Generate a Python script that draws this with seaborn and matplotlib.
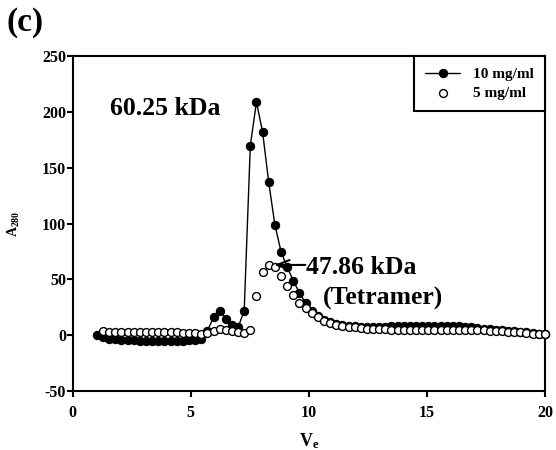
import matplotlib
matplotlib.use("Agg")
import matplotlib.pyplot as plt
import seaborn as sns
import pandas as pd

# Elution volume of each fraction (mL)
volumes = [
    1.02, 1.28, 1.54, 1.80, 2.06, 2.32, 2.58, 2.84, 3.10, 3.36,
    3.62, 3.88, 4.14, 4.40, 4.66, 4.92, 5.18, 5.44, 5.70, 5.96,
    6.22, 6.48, 6.74, 7.00, 7.26, 7.52, 7.78, 8.04, 8.30, 8.56,
    8.82, 9.08, 9.34, 9.60, 9.86, 10.12, 10.38, 10.64, 10.90, 11.16,
    11.42, 11.68, 11.94, 12.20, 12.46, 12.72, 12.98, 13.24, 13.50, 13.76,
    14.02, 14.28, 14.54, 14.80, 15.06, 15.32, 15.58, 15.84, 16.10, 16.36,
    16.62, 16.88, 17.14, 17.40, 17.66, 17.92, 18.18, 18.44, 18.70, 18.96,
    19.22, 19.48, 19.74, 20.00,
]

# A280, 10 mg/ml (filled circles)
a280_10 = [
    0, -2, -3, -3.5, -4, -4.5, -4.5, -5, -5, -5,
    -5, -5, -5, -5, -5, -4.5, -4.5, -3, 4, 16,
    22, 15, 9, 7, 22, 170, 209, 182, 137, 99,
    75, 61, 49, 38, 29, 22, 17, 14, 12, 10.5,
    9.5, 8.5, 8, 7.5, 7, 7, 7, 7.5, 8, 8,
    8.5, 8.5, 8.5, 8.5, 8.5, 8.5, 8.5, 8.5, 8, 8,
    7.5, 7, 6.5, 6, 5.5, 5, 4.5, 4, 3.5, 3,
    2.5, 2, 1.5, 1,
]

# A280, 5 mg/ml (open circles), starts one fraction later
a280_5 = [
    3.5, 3, 2.5, 2.5, 2.5, 2.5, 2.5, 2.5, 2.5, 2.5,
    2.5, 2.5, 2.5, 2, 2, 2, 1.5, 2, 4, 6,
    5, 3.5, 2.5, 2, 5, 35, 57, 63, 61, 53,
    44, 36, 29, 24, 20, 16, 13, 11, 9.5, 8.5,
    7.5, 7, 6.5, 6, 6, 5.5, 5.5, 5, 5, 5,
    5, 5, 5, 5, 5, 5, 5, 5, 5, 5,
    5, 4.5, 4.5, 4, 4, 3.5, 3, 3, 2.5, 2,
    1.5, 1.2, 1,
]

x_ticks = [0, 5, 10, 15, 20]
y_ticks = [-50, 0, 50, 100, 150, 200, 250]


def main():
    sns.set_style("ticks")
    plt.rcParams["font.family"] = ["Liberation Serif", "DejaVu Serif"]
    plt.rcParams["font.weight"] = "bold"
    plt.rcParams["text.color"] = "black"
    plt.rcParams["axes.labelcolor"] = "black"
    plt.rcParams["xtick.color"] = "black"
    plt.rcParams["ytick.color"] = "black"
    plt.rcParams["axes.unicode_minus"] = False
    plt.rcParams["mathtext.fontset"] = "custom"
    plt.rcParams["mathtext.rm"] = "Liberation Serif"
    plt.rcParams["mathtext.bf"] = "Liberation Serif:bold"

    df10 = pd.DataFrame({"Ve": volumes, "A280": a280_10})
    df5 = pd.DataFrame({"Ve": volumes[1:], "A280": a280_5})

    fig = plt.figure(figsize=(5.56, 4.5), dpi=100)
    ax = fig.add_axes([0.131, 0.131, 0.849, 0.744])

    sns.lineplot(data=df10, x="Ve", y="A280", ax=ax, color="black",
                 linewidth=1, marker="o", markersize=6,
                 markerfacecolor="black", markeredgecolor="black",
                 label="10 mg/ml", zorder=3, clip_on=False)
    sns.scatterplot(data=df5, x="Ve", y="A280", ax=ax, s=32,
                    facecolor="white", edgecolor="black", linewidth=1,
                    label="5 mg/ml", zorder=4, clip_on=False)

    ax.set_xlim(0, 20)
    ax.set_ylim(-50, 250)
    ax.set_xticks(x_ticks)
    ax.set_yticks(y_ticks)
    ax.tick_params(axis="x", labelsize=11.5, width=1.5, length=4, pad=6)
    ax.tick_params(axis="y", labelsize=11.5, width=1.5, length=4, pad=1)
    for lbl in ax.get_xticklabels() + ax.get_yticklabels():
        lbl.set_fontweight("bold")
    for sp in ax.spines.values():
        sp.set_visible(True)
        sp.set_linewidth(1.5)
        sp.set_color("black")

    ax.set_xlabel(r"$\mathbf{V_e}$", fontsize=13)
    ax.xaxis.set_label_coords(0.5, -0.12)
    ax.set_ylabel(r"$\mathrm{A_{280}}$", fontsize=10)
    ax.yaxis.set_label_coords(-0.108, 0.5)

    ax.text(1.58, 203, "60.25 kDa", fontsize=18.5, fontweight="bold",
            ha="left", va="center")
    ax.text(9.87, 61, "47.86 kDa", fontsize=18.5, fontweight="bold",
            ha="left", va="center")
    ax.text(10.59, 33, "(Tetramer)", fontsize=18.5, fontweight="bold",
            ha="left", va="center")
    ax.annotate("", xy=(8.53, 63), xytext=(9.85, 63),
                arrowprops=dict(arrowstyle="->,head_length=0.9,head_width=0.35",
                                color="black", lw=1.5, shrinkA=0, shrinkB=0),
                zorder=5)

    leg = ax.legend(loc="upper right", borderaxespad=0, fancybox=False,
                    edgecolor="black", framealpha=1,
                    prop={"family": "Liberation Serif", "weight": "bold", "size": 11},
                    handlelength=2.3, borderpad=0.75, labelspacing=0.3,
                    handletextpad=0.8)
    leg.get_frame().set_linewidth(1.5)

    fig.text(0.012, 0.985, "(c)", fontsize=24, fontweight="bold",
             ha="left", va="top")

    fig.savefig("out.png", dpi=100)
    plt.close(fig)


if __name__ == "__main__":
    main()
